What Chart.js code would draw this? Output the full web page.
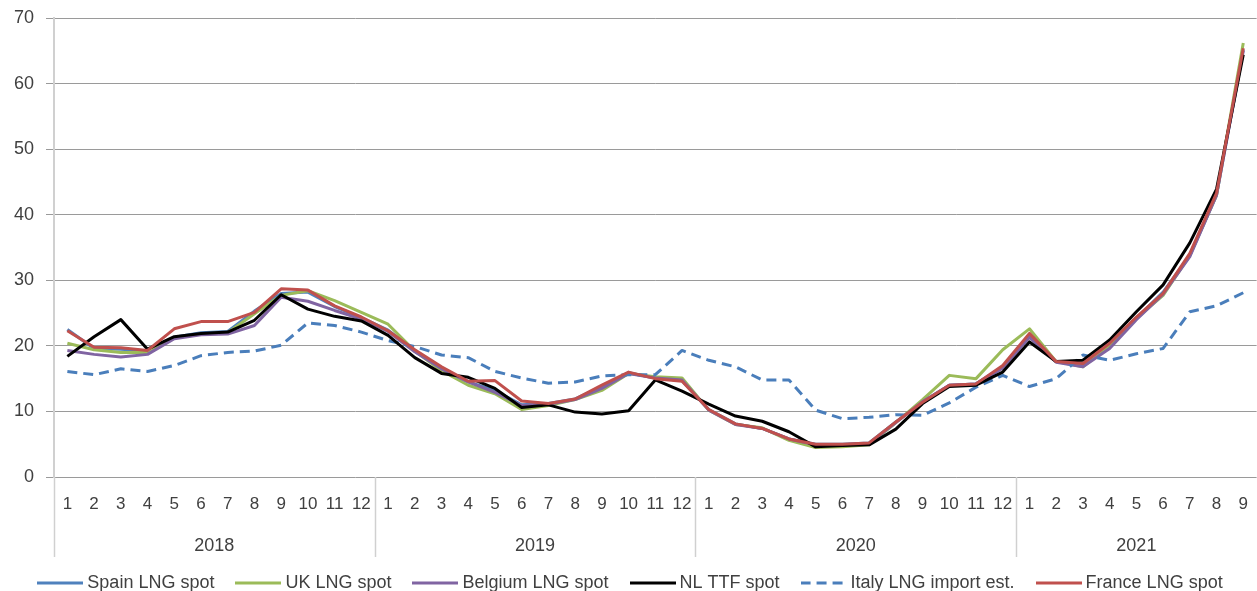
<!DOCTYPE html>
<html>
<head>
<meta charset="utf-8">
<script src="https://cdn.jsdelivr.net/npm/chart.js@4.4.1/dist/chart.umd.min.js"></script>
<style>
    html, body { margin: 0; padding: 0; background: #fff; }
    #wrap { width: 1257px; height: 591px; }
</style>
</head>
<body>
<div id="wrap"><canvas id="chart"></canvas></div>
<script>
const years = ["2018", "2019", "2020", "2021"];
const monthsPerYear = [12, 12, 12, 9];
const months = monthsPerYear.flatMap(n => Array.from({ length: n }, (_, i) => String(i + 1)));

const spain = [
    22.5, 19.6, 19.5, 19.2, 21.3, 22.0, 22.2, 25.3, 28.0, 28.2, 26.0, 24.3,
    22.4, 19.3, 16.6, 14.5, 13.2, 11.0, 11.2, 11.9, 13.8, 15.9, 15.1, 14.7,
    10.3, 8.1, 7.4, 5.8, 5.0, 5.0, 5.2, 8.4, 11.4, 14.0, 14.2, 16.8,
    21.6, 17.6, 17.0, 20.1, 24.2, 28.2, 33.8, 43.0, 65.2
];
const uk = [
    20.4, 19.4, 19.0, 19.0, 21.2, 21.8, 22.0, 24.9, 27.7, 28.4, 26.9, 25.1,
    23.3, 19.2, 16.2, 14.0, 12.7, 10.3, 10.9, 11.8, 13.2, 15.8, 15.3, 15.1,
    10.2, 8.0, 7.5, 5.6, 4.5, 4.6, 4.9, 8.3, 11.8, 15.5, 15.0, 19.4,
    22.6, 17.6, 16.8, 20.0, 24.2, 27.7, 33.8, 43.0, 66.2
];
const belgium = [
    19.3, 18.7, 18.3, 18.7, 21.1, 21.7, 21.8, 23.1, 27.4, 26.8, 25.4, 24.1,
    22.2, 19.1, 16.5, 14.5, 12.9, 10.9, 11.1, 11.8, 13.5, 15.8, 15.1, 14.8,
    10.2, 8.0, 7.4, 5.8, 4.9, 4.9, 5.1, 8.3, 11.5, 14.0, 14.2, 16.6,
    21.3, 17.5, 16.8, 19.6, 24.0, 27.9, 33.6, 43.0, 65.0
];
const nlTtf = [
    18.4, 21.4, 24.0, 19.5, 21.4, 21.9, 22.1, 23.9, 27.8, 25.6, 24.5, 23.8,
    21.6, 18.2, 15.8, 15.2, 13.5, 10.6, 11.0, 9.9, 9.6, 10.1, 14.8, 13.1,
    11.1, 9.3, 8.5, 6.9, 4.6, 4.8, 4.9, 7.3, 11.2, 13.8, 14.0, 16.0,
    20.6, 17.6, 17.8, 20.9, 25.2, 29.3, 35.7, 43.9, 64.4
];
const italy = [
    16.1, 15.6, 16.5, 16.1, 17.0, 18.5, 19.0, 19.2, 20.1, 23.5, 23.1, 22.1,
    20.8, 19.9, 18.6, 18.2, 16.1, 15.1, 14.3, 14.5, 15.4, 15.6, 15.6, 19.3,
    17.8, 16.8, 14.8, 14.8, 10.2, 8.9, 9.1, 9.5, 9.4, 11.3, 13.7, 15.5,
    13.8, 15.0, 18.6, 17.8, 18.8, 19.6, 25.2, 26.1, 28.1
];
const france = [
    22.3, 19.8, 19.7, 19.3, 22.6, 23.7, 23.7, 25.1, 28.7, 28.5, 26.1, 24.4,
    22.3, 19.4, 16.8, 14.6, 14.7, 11.6, 11.2, 11.9, 14.0, 16.0, 15.0, 14.6,
    10.3, 8.1, 7.4, 5.8, 5.0, 5.0, 5.2, 8.4, 11.4, 14.0, 14.2, 17.0,
    21.9, 17.6, 17.3, 20.4, 24.4, 28.0, 34.1, 43.3, 65.4
];

const textColor = "#404040";
const fontFamily = "'Liberation Sans', Arial, sans-serif";

// small line sample used as the legend marker (keeps the dash pattern)
function lineSample(color, dash) {
    const c = document.createElement("canvas");
    c.width = 46;
    c.height = 4;
    const g = c.getContext("2d");
    g.strokeStyle = color;
    g.lineWidth = 3;
    g.setLineDash(dash || []);
    g.beginPath();
    g.moveTo(0, 2);
    g.lineTo(46, 2);
    g.stroke();
    return c;
}

function series(label, data, color, order, dash) {
    return {
        label,
        data,
        borderColor: color,
        backgroundColor: color,
        borderWidth: 3,
        borderDash: dash || [],
        pointRadius: 0,
        pointStyle: lineSample(color, dash),
        tension: 0,
        borderJoinStyle: "round",
        fill: false,
        order
    };
}

/* Year row under the month labels, with separators between years */
const yearAxis = {
    id: "yearAxis",
    afterDraw(chart) {
        const { ctx, chartArea } = chart;
        const x = chart.scales.x;
        const top = chartArea.bottom;
        const bottom = top + 80;
        const edge = i => {
            if (i <= 0) return x.left;
            if (i >= months.length) return x.right;
            return (x.getPixelForValue(i - 1) + x.getPixelForValue(i)) / 2;
        };
        ctx.save();
        ctx.strokeStyle = "#d0d0d0";
        ctx.lineWidth = 1.5;
        ctx.fillStyle = textColor;
        ctx.font = "18px " + fontFamily;
        ctx.textAlign = "center";
        ctx.textBaseline = "middle";
        let start = 0;
        years.forEach((year, k) => {
            const end = start + monthsPerYear[k];
            const l = edge(start), r = edge(end);
            ctx.beginPath();
            ctx.moveTo(Math.round(l) + 0.5, top);
            ctx.lineTo(Math.round(l) + 0.5, bottom);
            ctx.stroke();
            ctx.fillText(year, (l + r) / 2, top + 69);
            start = end;
        });
        ctx.restore();
    }
};

new Chart(document.getElementById("chart"), {
    type: "line",
    data: {
        labels: months,
        datasets: [
            series("Spain LNG spot", spain, "#4F81BD", 5),
            series("UK LNG spot", uk, "#9BBB59", 4),
            series("Belgium LNG spot", belgium, "#8064A2", 3),
            series("NL TTF spot", nlTtf, "#000000", 1),
            series("Italy LNG import est.", italy, "#4A7EBB", 2, [10, 6]),
            series("France LNG spot", france, "#C0504D", 0)
        ]
    },
    options: {
        responsive: true,
        maintainAspectRatio: false,
        animation: false,
        layout: { padding: { top: 18, right: -8, left: 0, bottom: -11 } },
        plugins: {
            tooltip: { enabled: false },
            legend: {
                position: "bottom",
                labels: {
                    usePointStyle: true,
                    pointStyleWidth: 36,
                    boxHeight: 18,
                    padding: 26,
                    color: textColor,
                    font: { size: 18, family: fontFamily },
                    sort: (a, b) => a.datasetIndex - b.datasetIndex
                }
            }
        },
        scales: {
            x: {
                offset: true,
                grid: { display: false },
                border: { display: false },
                ticks: {
                    autoSkip: false,
                    maxRotation: 0,
                    padding: 9,
                    color: textColor,
                    font: { size: 17, family: fontFamily }
                },
                afterFit: scale => { scale.height = 71; }
            },
            y: {
                min: 0,
                max: 70,
                ticks: {
                    stepSize: 10,
                    padding: 12,
                    color: textColor,
                    font: { size: 18, family: fontFamily }
                },
                grid: { color: "#9a9a9a", lineWidth: 1, tickLength: 8 },
                border: { color: "#d0d0d0", width: 2 },
                afterFit: scale => {
                    scale.width = 54;
                    scale.paddingTop = 0;
                    scale.paddingBottom = 0;
                }
            }
        }
    },
    plugins: [yearAxis]
});
</script>
</body>
</html>
